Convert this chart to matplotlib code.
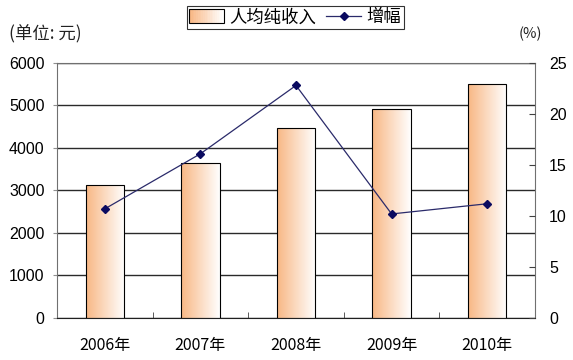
import numpy as np
import matplotlib
matplotlib.use("Agg")
from matplotlib import pyplot as plt
from matplotlib.lines import Line2D
from matplotlib.patches import Patch, Rectangle
from matplotlib.colors import LinearSegmentedColormap
from matplotlib.legend_handler import HandlerBase

plt.rcParams['font.family'] = ['Liberation Sans', 'Noto Sans CJK SC', 'DejaVu Sans']

years = ["2006年", "2007年", "2008年", "2009年", "2010年"]
income = [3120, 3640, 4470, 4910, 5500]
growth = [10.7, 16.1, 22.8, 10.2, 11.2]

cmap = LinearSegmentedColormap.from_list("og", ["#F8B784", "#FFFFFF"])


class GradientHandler(HandlerBase):
    """Legend swatch filled with the same orange-to-white gradient."""

    def create_artists(self, legend, orig_handle, xdescent, ydescent,
                       width, height, fontsize, trans):
        n = 20
        arts = []
        for i in range(n):
            r = Rectangle((-xdescent + width * i / n, -ydescent), width / n + 0.3,
                          height, facecolor=cmap(i / (n - 1)), edgecolor="none",
                          transform=trans)
            arts.append(r)
        arts.append(Rectangle((-xdescent, -ydescent), width, height,
                              facecolor="none", edgecolor="black", linewidth=0.8,
                              transform=trans))
        return arts


fig = plt.figure(figsize=(5.73, 3.6), dpi=100)
ax = fig.add_axes([0.0995, 0.1167, 0.8342, 0.7083])
x = np.arange(len(years))

# bars with a left-to-right orange-to-white gradient
bars = ax.bar(x, income, width=0.4, facecolor="none", edgecolor="black",
              linewidth=0.8, zorder=3)
grad = np.linspace(0, 1, 256).reshape(1, -1)
for b in bars:
    x0, w, h = b.get_x(), b.get_width(), b.get_height()
    im = ax.imshow(grad, cmap=cmap, aspect="auto", extent=[x0, x0 + w, 0, h],
                   zorder=2)
    im.set_clip_path(b)

ax.set_xlim(-0.5, 4.5)
ax.set_ylim(0, 6000)
ax.set_yticks(range(0, 6001, 1000))
ax.yaxis.grid(True, color="#2a2a2a", linewidth=1.0)
ax.set_axisbelow(True)
ax.set_xticks(x)
ax.set_xticklabels(years, family=['Noto Sans CJK SC'], fontsize=11.5)
ax.set_xticks(np.arange(-0.5, 5, 1), minor=True)
ax.tick_params(axis="x", which="major", length=0, pad=14)
ax.tick_params(axis="x", which="minor", direction="in", length=4, color="#404040")
ax.tick_params(axis="y", labelsize=11.5, length=3, color="#909090", pad=6)
for s in ["left", "top", "right"]:
    ax.spines[s].set_color("#707070")
ax.spines["bottom"].set_color("#202020")

ax2 = ax.twinx()
ax2.plot(x, growth, color="#2a2a6a", linewidth=0.9, marker="D", markersize=4,
         markerfacecolor="#0a0a60", markeredgecolor="#0a0a60", zorder=5)
ax2.set_ylim(0, 25)
ax2.set_yticks(range(0, 26, 5))
ax2.tick_params(axis="y", direction="in", labelsize=11.5, length=4,
                color="#404040", pad=10)
for s in ["left", "top", "right", "bottom"]:
    ax2.spines[s].set_visible(False)

fig.text(0.015, 0.905, "(单位: 元)", family=['Noto Sans CJK SC'], fontsize=12.5,
         va="center", color="#222222")
fig.text(0.905, 0.905, "(%)", family=['Noto Sans CJK SC'], fontsize=10.5,
         va="center", color="#222222")

bar_handle = Patch(facecolor="#FAD0AA", edgecolor="black", linewidth=0.8)
line_handle = Line2D([], [], color="#2a2a6a", linewidth=0.9, marker="D",
                     markersize=4, markerfacecolor="#0a0a60",
                     markeredgecolor="#0a0a60")
leg = fig.legend([bar_handle, line_handle], ["人均纯收入", "增幅"], loc="center",
                 bbox_to_anchor=(0.515, 0.952), ncol=2, frameon=True, fancybox=False,
                 edgecolor="black", prop={'family': ['Noto Sans CJK SC'], 'size': 12.5},
                 handlelength=2.0, handleheight=0.9, handletextpad=0.3,
                 columnspacing=0.6, borderpad=0.15, borderaxespad=0,
                 handler_map={bar_handle: GradientHandler()})
leg.get_frame().set_linewidth(0.8)

fig.savefig("out.png", dpi=100)
